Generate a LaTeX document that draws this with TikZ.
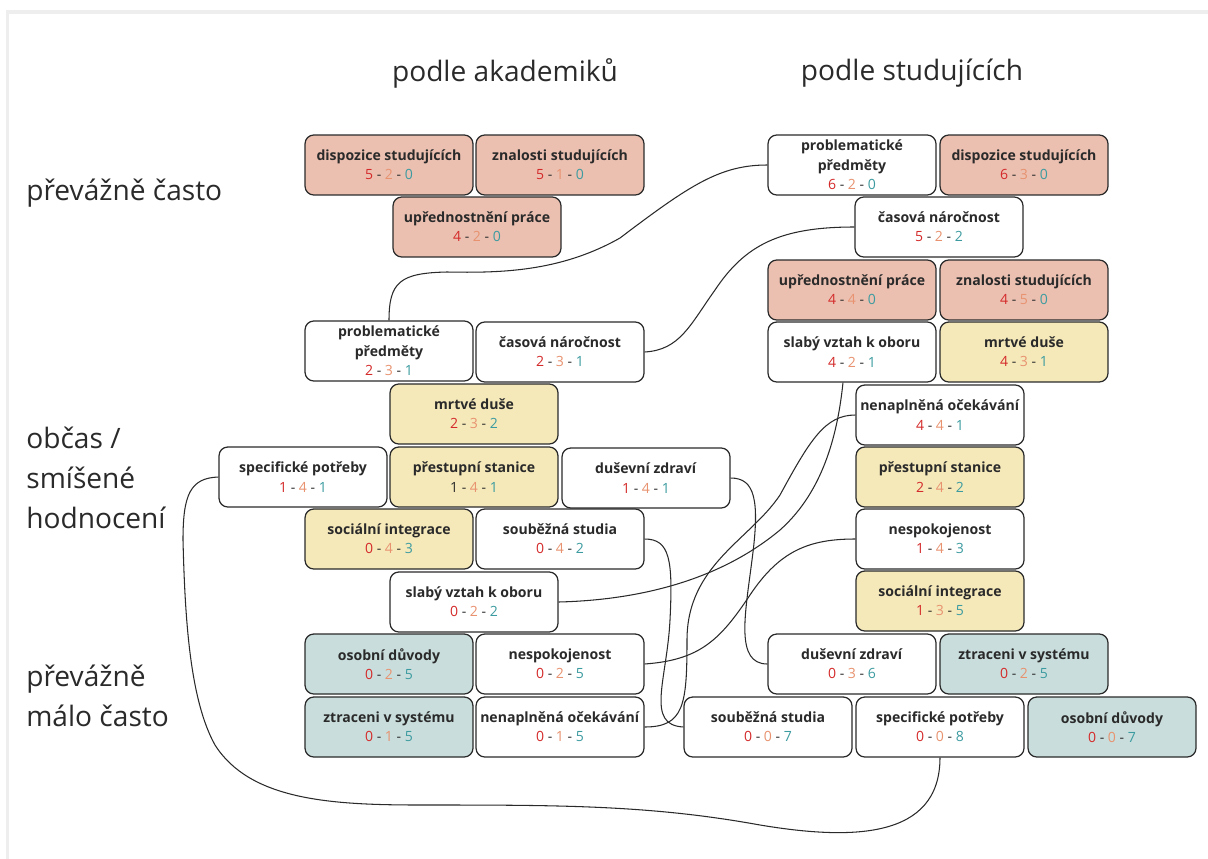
\documentclass[tikz,border=0pt]{standalone}
\usepackage{fontspec}
\setmainfont{Open Sans}
\usepackage{tikz}

\definecolor{ink}{HTML}{2A2A2A}
\definecolor{pinkF}{HTML}{EBC0B1}
\definecolor{sandF}{HTML}{F5E9BA}
\definecolor{seaF}{HTML}{C9DEDC}
\definecolor{cRed}{HTML}{D42A2A}
\definecolor{cOra}{HTML}{E8926F}
\definecolor{cSea}{HTML}{3C9BA0}
\definecolor{frameG}{HTML}{EEEEEE}

\newcommand{\skore}[3]{{\color{cRed}#1} - {\color{cOra}#2} - {\color{cSea}#3}}

\begin{document}
\begin{tikzpicture}[%
        x=0.02cm, y=-0.02cm,
        every node/.style={text=ink},
        box/.style={draw=ink, line width=0.7pt, rounded corners=5pt, fill=white,
            align=center, minimum width=3.36cm, minimum height=1.2cm, inner sep=1pt,
            font=\fontsize{8}{11}\selectfont},
        often/.style={box, fill=pinkF},
        mixed/.style={box, fill=sandF},
        rare/.style={box, fill=seaF},
        head/.style={font=\fontsize{16}{22.7}\selectfont},
        side/.style={head, align=left, anchor=west, inner xsep=0pt},
        link/.style={draw=ink, line width=0.6pt}
    ]
    \useasboundingbox (0,0) rectangle (1208,859);
    \fill[frameG] (7,10) rectangle (1208,14);
    \fill[frameG] (6,10) rectangle (9,859);

    % --- Headings ---
    \node[head] (hAk) at (505,73) {podle akademiků};
    \node[head] (hSt) at (912,73) {podle studujících};
    \node[side] (rOften) at (26,193) {převážně často};
    \node[side] (rMixed) at (26,478) {občas /\\smíšené\\hodnocení};
    \node[side] (rRare) at (26,696) {převážně\\málo často};

    % --- podle akademiku ---
    \begin{scope}
        \node[often] (aDisp) at (389,165) {\textbf{dispozice studujících}\\\skore{5}{2}{0}};
        \node[often] (aZnal) at (560,165) {\textbf{znalosti studujících}\\\skore{5}{1}{0}};
        \node[often] (aUpred) at (477,227) {\textbf{upřednostnění práce}\\\skore{4}{2}{0}};
        \node[box] (aProbl) at (389,351) {\textbf{problematické}\\\textbf{předměty}\\\skore{2}{3}{1}};
        \node[box] (aCas) at (560,352) {\textbf{časová náročnost}\\\skore{2}{3}{1}};
        \node[mixed] (aMrtve) at (474,414) {\textbf{mrtvé duše}\\\skore{2}{3}{2}};
        \node[box] (aSpec) at (303,477) {\textbf{specifické potřeby}\\\skore{1}{4}{1}};
        \node[mixed] (aPrest) at (474,477) {\textbf{přestupní stanice}\\1 - {\color{cOra}4} - {\color{cSea}1}};
        \node[box] (aDus) at (646,478) {\textbf{duševní zdraví}\\\skore{1}{4}{1}};
        \node[mixed] (aSoc) at (389,539) {\textbf{sociální integrace}\\\skore{0}{4}{3}};
        \node[box] (aSoub) at (560,539) {\textbf{souběžná studia}\\\skore{0}{4}{2}};
        \node[box] (aSlaby) at (474,602) {\textbf{slabý vztah k oboru}\\\skore{0}{2}{2}};
        \node[rare] (aOsob) at (389,664) {\textbf{osobní důvody}\\\skore{0}{2}{5}};
        \node[box] (aNesp) at (560,664) {\textbf{nespokojenost}\\\skore{0}{2}{5}};
        \node[rare] (aZtrac) at (389,727) {\textbf{ztraceni v systému}\\\skore{0}{1}{5}};
        \node[box] (aNenap) at (560,727) {\textbf{nenaplněná očekávání}\\\skore{0}{1}{5}};
    \end{scope}

    % --- podle studujicich ---
    \begin{scope}
        \node[box] (sProbl) at (852,165) {\textbf{problematické}\\\textbf{předměty}\\\skore{6}{2}{0}};
        \node[often] (sDisp) at (1024,165) {\textbf{dispozice studujících}\\\skore{6}{3}{0}};
        \node[box] (sCas) at (939,227) {\textbf{časová náročnost}\\\skore{5}{2}{2}};
        \node[often] (sUpred) at (852,290) {\textbf{upřednostnění práce}\\\skore{4}{4}{0}};
        \node[often] (sZnal) at (1024,290) {\textbf{znalosti studujících}\\\skore{4}{5}{0}};
        \node[box] (sSlaby) at (852,352) {\textbf{slabý vztah k oboru}\\\skore{4}{2}{1}};
        \node[mixed] (sMrtve) at (1024,352) {\textbf{mrtvé duše}\\\skore{4}{3}{1}};
        \node[box] (sNenap) at (940,415) {\textbf{nenaplněná očekávání}\\\skore{4}{4}{1}};
        \node[mixed] (sPrest) at (940,477) {\textbf{přestupní stanice}\\\skore{2}{4}{2}};
        \node[box] (sNesp) at (940,539) {\textbf{nespokojenost}\\\skore{1}{4}{3}};
        \node[mixed] (sSoc) at (940,601) {\textbf{sociální integrace}\\\skore{1}{3}{5}};
        \node[box] (sDus) at (852,664) {\textbf{duševní zdraví}\\\skore{0}{3}{6}};
        \node[rare] (sZtrac) at (1024,664) {\textbf{ztraceni v systému}\\\skore{0}{2}{5}};
        \node[box] (sSoub) at (768,727) {\textbf{souběžná studia}\\\skore{0}{0}{7}};
        \node[box] (sSpec) at (940,727) {\textbf{specifické potřeby}\\\skore{0}{0}{8}};
        \node[rare] (sOsob) at (1112,727) {\textbf{osobní důvody}\\\skore{0}{0}{7}};
    \end{scope}

    % --- links between the two views ---
    \draw[link] (aProbl.north) .. controls (389,282) and (400,273) .. (447,272)
        .. controls (500,273) and (560,272) .. (620,238)
        .. controls (690,185) and (720,165) .. (sProbl.west);
    \draw[link] (aCas.east) .. controls (680,350) and (690,325) .. (715,290)
        .. controls (745,245) and (780,227) .. (sCas.west);
    \draw[link] (aSlaby.east) .. controls (640,600) and (720,580) .. (780,530)
        .. controls (825,490) and (838,430) .. ([xshift=-0.18cm]sSlaby.south);
    \draw[link] (aNenap.east) .. controls (684,727) and (687,705) .. (687,640)
        .. controls (687,565) and (750,540) .. (780,495)
        .. controls (810,440) and (825,415) .. (sNenap.west);
    \draw[link] (aSoub.east) .. controls (670,539) and (673,560) .. (670,620)
        .. controls (667,680) and (645,725) .. (sSoub.west);
    \draw[link] (aDus.east) .. controls (755,478) and (760,500) .. (752,560)
        .. controls (745,615) and (735,664) .. (sDus.west);
    \draw[link] (aNesp.east) .. controls (700,660) and (720,640) .. (750,595)
        .. controls (780,550) and (810,539) .. (sNesp.west);
    \draw[link] (aSpec.west) .. controls (190,478) and (183,495) .. (183,540)
        .. controls (185,620) and (190,700) .. (215,745)
        .. controls (250,800) and (330,805) .. (420,805)
        .. controls (560,805) and (650,805) .. (760,825)
        .. controls (850,840) and (940,840) .. (sSpec.south);
\end{tikzpicture}
\end{document}
